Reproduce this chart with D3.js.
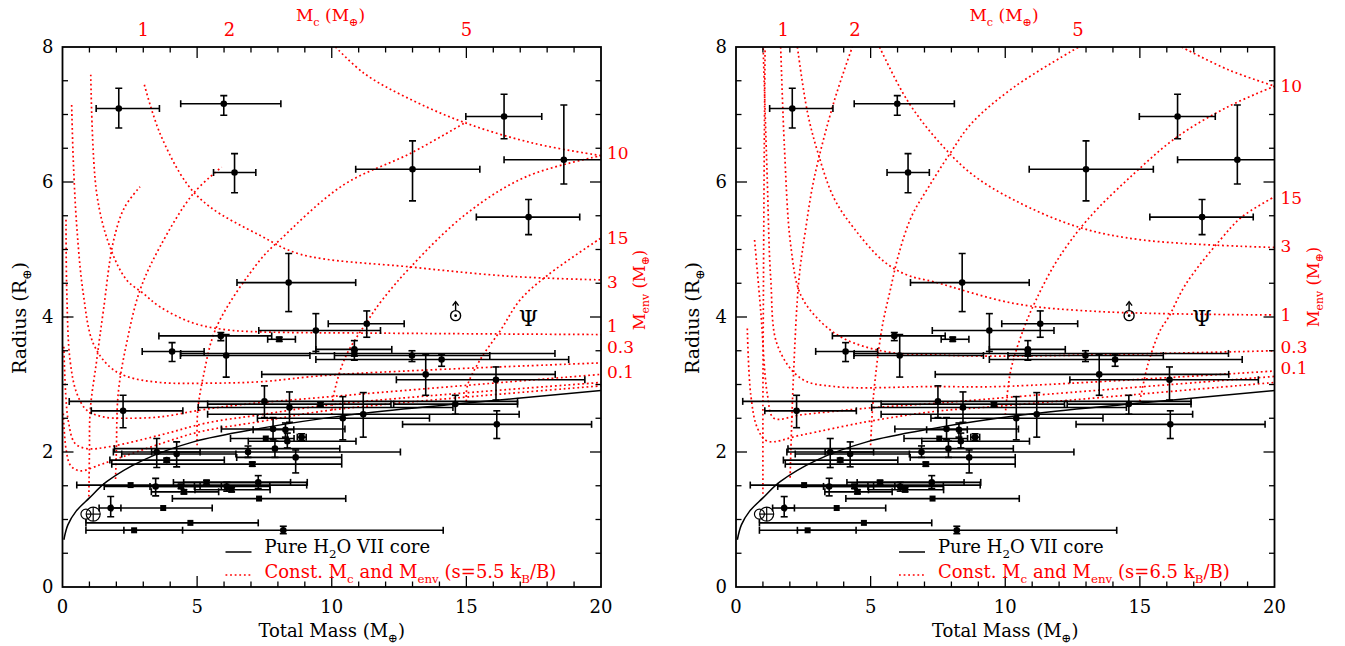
<!DOCTYPE html>
<html><head><meta charset="utf-8">
<script src="https://cdn.jsdelivr.net/npm/d3@7"></script>
<style>
html,body{margin:0;padding:0;background:#fff;}
svg{display:block;}
text{font-family:"DejaVu Serif",serif;}
</style></head>
<body>
<svg id="c" width="1345" height="646"></svg>
<script>
// ---------- DATA ----------
// planets: [mass, massLo, massHi, radius, radiusLo, radiusHi, marker]
const planets = [
[2.09,1.25,3.60,7.09,6.80,7.39,'c'],[5.99,4.39,8.11,7.16,6.99,7.28,'c'],[6.39,5.61,7.18,6.14,5.84,6.42,'c'],
[16.40,14.98,17.80,6.97,6.64,7.30,'c'],[18.62,16.40,21.5,6.33,5.97,7.14,'c'],[13.00,10.89,15.50,6.19,5.72,6.61,'c'],
[17.31,15.37,19.21,5.48,5.22,5.74,'c'],[8.40,6.48,10.89,4.51,4.08,4.94,'c'],[11.30,9.87,12.69,3.90,3.70,4.09,'c'],
[9.41,7.29,11.81,3.80,3.49,4.05,'c'],[5.88,3.58,7.77,3.72,3.65,3.77,'c'],[8.05,7.62,8.65,3.67,3.64,3.70,'s'],
[4.07,2.96,5.26,3.49,3.34,3.62,'c'],[6.08,4.38,9.19,3.43,3.11,3.74,'c'],[10.84,9.41,12.23,3.52,3.36,3.65,'c'],
[10.84,4.39,18.29,3.46,3.42,3.50,'c'],[12.98,10.10,15.87,3.43,3.34,3.50,'c'],[14.08,9.41,18.80,3.37,3.27,3.45,'c'],
[13.49,7.40,18.30,3.15,2.84,3.45,'c'],[16.10,12.40,19.40,3.07,2.77,3.26,'c'],[14.59,12.30,16.90,2.71,2.56,2.84,'c'],
[16.13,12.63,19.65,2.41,2.20,2.61,'c'],[10.41,7.24,13.63,2.50,2.18,2.82,'c'],[11.17,5.39,16.96,2.56,2.22,2.88,'c'],
[7.50,0.25,16.90,2.75,2.51,2.98,'c'],[8.43,5.04,14.50,2.66,2.44,2.89,'c'],[9.58,5.39,12.20,2.71,2.68,2.74,'s'],
[2.25,1.07,4.47,2.61,2.36,2.84,'c'],[7.82,5.90,10.49,2.34,2.18,2.51,'c'],[8.28,7.08,8.59,2.33,2.22,2.43,'c'],
[7.55,6.24,8.60,2.20,2.18,2.22,'s'],[8.35,6.90,10.90,2.16,2.06,2.28,'c'],[8.88,8.72,9.05,2.22,2.17,2.27,'c'],
[3.50,1.89,5.11,2.00,1.77,2.20,'c'],[4.24,2.20,6.44,1.97,1.78,2.15,'c'],[3.87,1.76,6.01,1.88,1.85,1.91,'c'],
[6.89,3.31,12.55,2.00,1.92,2.09,'c'],[7.89,1.93,10.30,2.05,1.92,2.16,'c'],[8.66,6.47,10.37,1.92,1.69,2.03,'c'],
[7.05,1.83,10.37,1.82,1.79,1.85,'s'],[2.53,0.53,9.07,1.51,1.49,1.53,'s'],[3.46,1.55,5.11,1.49,1.35,1.61,'c'],
[4.40,3.25,5.90,1.49,1.46,1.52,'s'],[4.51,3.30,5.80,1.41,1.38,1.44,'s'],[5.35,4.12,8.47,1.55,1.52,1.58,'s'],
[6.10,4.90,7.70,1.49,1.42,1.55,'c'],[6.28,4.92,7.71,1.44,1.41,1.47,'s'],[7.27,4.50,9.09,1.55,1.46,1.65,'c'],
[7.30,4.08,10.52,1.31,1.29,1.33,'s'],[1.79,1.36,2.17,1.17,1.04,1.34,'c'],[3.74,1.83,5.56,1.17,1.15,1.19,'s'],
[4.75,0.87,7.27,0.95,0.93,0.97,'s'],[2.66,2.28,4.46,0.84,0.82,0.86,'s'],[8.20,0.87,14.14,0.84,0.79,0.90,'c']
];
// solar system reference bodies [mass, radius]
const earthPos = [1.14, 1.08];
const venusPos = [0.87, 1.08];
const uranusPos = [14.6, 4.05];
const neptunePos = [17.3, 3.98];

// pure H2O VII core mass-radius relation [M, R]
const coreCurve = [[0.05,0.70],[0.2,0.92],[0.5,1.12],[1.0,1.32],[1.64,1.56],[3.0,1.88],[4.86,2.15],[7.33,2.35],[10.68,2.55],[14.61,2.71],[20,2.91]];

// s = 5.5 kB/B : constant core mass curves
const mc1A = [[0.98,1.34],[1.0,2.0],[1.03,2.62],[1.27,3.36],[1.52,4.10],[1.89,5.12],[2.3,5.62],[2.88,5.93]];
const mc2A = [[1.97,1.6],[2.0,2.0],[2.07,2.87],[2.38,3.61],[2.88,4.40],[3.62,5.04],[4.86,5.83],[5.91,6.22]];
const mc5A = [[5.0,2.1],[5.02,2.6],[5.23,3.12],[5.73,3.86],[7.33,4.84],[8.07,5.14],[10.41,5.95],[12.95,6.43],[15.0,6.89]];
const mc10A = [[10.0,2.55],[10.06,2.82],[10.5,3.4],[11.36,3.96],[11.87,4.25],[12.95,4.75],[15.0,5.53],[17.23,6.08],[20,6.39]];
const mc15A = [[15.0,2.75],[15.03,2.97],[15.5,3.36],[16.28,3.81],[16.99,4.25],[18.02,4.62],[20,5.17]];
// s = 5.5 : constant envelope mass curves
const me10A = [[10.14,8.0],[11.2,7.61],[12.79,7.25],[15.0,6.87],[17.54,6.57],[20,6.39]];
const me3A = [[3.04,7.44],[3.62,6.72],[4.61,5.98],[5.48,5.63],[7.33,5.21],[8.83,4.93],[12.95,4.74],[16.75,4.60],[20,4.55]];
const me1A = [[1.05,7.59],[1.27,5.83],[1.76,5.04],[2.38,4.55],[3.0,4.35],[3.62,4.15],[4.86,3.91],[6.10,3.81],[7.33,3.78],[12,3.76],[20,3.74]];
const me03A = [[0.34,7.14],[0.40,6.33],[0.53,5.34],[0.77,4.35],[1.14,3.61],[1.76,3.26],[2.38,3.12],[3.62,3.03],[5.48,3.02],[7.33,3.04],[9.95,3.14],[20,3.32]];
const me01A = [[0.13,5.44],[0.16,4.35],[0.28,3.36],[0.53,2.87],[0.90,2.62],[1.52,2.52],[2.38,2.50],[3.62,2.52],[5.11,2.62],[6.59,2.70],[9.95,2.82],[20,3.15]];
const me003A = [[0.05,3.56],[0.12,2.85],[0.22,2.45],[0.46,2.13],[0.90,2.05],[1.76,2.08],[3.62,2.25],[5.35,2.43],[7.33,2.55],[9.95,2.70],[20,3.03]];
const me001A = [[0.03,2.57],[0.13,2.05],[0.3,1.80],[0.65,1.72],[1.39,1.81],[1.89,1.88],[3.62,2.12],[5.11,2.30],[7.33,2.45],[9.95,2.62],[20,2.98]];

// s = 6.5 kB/B : constant core mass curves
const mc1B = [[1.0,1.38],[1.0,2.7],[1.02,4.5],[1.05,6.5],[1.08,8.0]];
const mc2B = [[2.01,1.62],[2.13,3.09],[2.34,4.57],[2.59,5.31],[2.90,6.05],[3.64,7.19],[4.32,8.0]];
const mc5B = [[5.0,2.1],[5.1,2.8],[5.41,3.81],[5.73,4.40],[6.05,4.94],[6.52,5.49],[7.16,5.93],[7.96,6.43],[8.75,6.87],[10.34,7.41],[12.73,8.0]];
const mc10B = [[10.0,2.55],[10.2,3.2],[10.66,3.8],[11.14,4.25],[11.93,4.84],[13.05,5.44],[14.8,6.13],[16.39,6.67],[18.3,7.12],[20,7.42]];
const mc15B = [[15.0,2.75],[15.3,3.3],[15.75,3.8],[16.07,4.0],[16.71,4.49],[17.98,5.14],[18.78,5.48],[20,5.78]];
// s = 6.5 : constant envelope mass curves
const me10B = [[16.55,8.0],[18.3,7.66],[20,7.42]];
const me3B = [[5.33,8.0],[6.36,7.21],[7.48,6.62],[8.75,6.12],[10.34,5.73],[12.73,5.33],[15.12,5.14],[20,5.03]];
const me1B = [[2.28,8.0],[2.65,7.04],[3.03,6.45],[3.64,5.76],[4.39,5.31],[5.50,4.82],[6.37,4.62],[7.36,4.52],[10.34,4.20],[13.52,4.08],[20,4.03]];
const me03B = [[1.66,8.0],[1.8,6.5],[2.03,5.07],[2.40,4.33],[3.15,3.93],[4.01,3.68],[5.50,3.49],[7.36,3.44],[9.81,3.42],[20,3.50]];
const me01B = [[1.01,7.98],[1.16,6.05],[1.29,4.57],[1.54,3.58],[2.41,3.09],[3.64,2.97],[7.36,2.97],[9.81,2.97],[20,3.20]];
const me003B = [[0.69,5.14],[0.92,4.08],[1.17,2.84],[1.41,2.50],[2.41,2.55],[4.88,2.65],[7.36,2.72],[9.81,2.80],[20,3.12]];
const me001B = [[0.42,3.83],[0.55,2.84],[0.80,2.35],[1.17,2.16],[2.41,2.25],[4.88,2.45],[7.36,2.60],[9.81,2.68],[20,3.03]];

// axis ticks
const xMajor = [0,5,10,15,20];
const yMajor = [0,2,4,6,8];
// top labels (Mc) : [label, total-mass position]
const topLabelsA = [["1",3.0],["2",6.2],["5",15.0]];
const topLabelsB = [["1",1.75],["2",4.42],["5",12.7]];
// right labels : [label, radius position]
const rightLabelsA = [["10",6.43],["15",5.17],["3",4.52],["1",3.86],["0.3",3.55],["0.1",3.19]];
const rightLabelsB = [["10",7.42],["15",5.76],["3",5.05],["1",4.03],["0.3",3.56],["0.1",3.25]];
const entropyA = "5.5", entropyB = "6.5";

// ---------- DRAW ----------
const svg = d3.select("#c");
const RED = "#ff0000";

function rich(sel, parts, size){
  const d = size*0.27;
  let low = false;
  parts.forEach(p=>{
    const t = sel.append("tspan").text(p[0]);
    if(p[1]){
      t.attr("font-size",size*0.66);
      if(!low){ t.attr("dy",d); low=true; }
    } else if(low){ t.attr("dy",-d); low=false; }
  });
  return sel;
}

function panel(cfg){
  const x = d3.scaleLinear().domain([0,20]).range([cfg.x0,cfg.x1]);
  const y = d3.scaleLinear().domain([0,8]).range([587,47]);
  const g = svg.append("g");
  const cid = "clip"+cfg.id;
  svg.append("defs").append("clipPath").attr("id",cid).append("rect")
    .attr("x",cfg.x0).attr("y",47).attr("width",cfg.x1-cfg.x0).attr("height",540);
  const plot = g.append("g").attr("clip-path",`url(#${cid})`);

  const line = d3.line().x(d=>x(d[0])).y(d=>y(d[1])).curve(d3.curveCatmullRom.alpha(0.5));
  cfg.curves.forEach(c=>{
    plot.append("path").attr("d",line(c)).attr("fill","none").attr("stroke",RED)
      .attr("stroke-width",1.7).attr("stroke-dasharray","1.8,2.8");
  });
  plot.append("path").attr("d",line(coreCurve)).attr("fill","none").attr("stroke","#000").attr("stroke-width",1.5);

  const pg = plot.append("g").attr("stroke","#000").attr("stroke-width",1.6);
  planets.forEach(p=>{
    const cx=x(p[0]), cy=y(p[3]);
    const xl=x(p[1]), xr=x(p[2]), yt=y(p[5]), yb=y(p[4]);
    pg.append("line").attr("x1",xl).attr("x2",xr).attr("y1",cy).attr("y2",cy);
    pg.append("line").attr("x1",xl).attr("x2",xl).attr("y1",cy-3.5).attr("y2",cy+3.5);
    pg.append("line").attr("x1",xr).attr("x2",xr).attr("y1",cy-3.5).attr("y2",cy+3.5);
    if(yb-yt>3){
      pg.append("line").attr("x1",cx).attr("x2",cx).attr("y1",yt).attr("y2",yb);
      pg.append("line").attr("x1",cx-3.5).attr("x2",cx+3.5).attr("y1",yt).attr("y2",yt);
      pg.append("line").attr("x1",cx-3.5).attr("x2",cx+3.5).attr("y1",yb).attr("y2",yb);
    }
    if(p[6]==='s') pg.append("rect").attr("x",cx-3).attr("y",cy-3).attr("width",6).attr("height",6).attr("fill","#000").attr("stroke","none");
    else pg.append("circle").attr("cx",cx).attr("cy",cy).attr("r",3.3).attr("fill","#000").attr("stroke","none");
  });

  // Earth & Venus
  const ex=x(earthPos[0]), ey=y(earthPos[1]);
  g.append("circle").attr("cx",ex).attr("cy",ey).attr("r",7).attr("fill","none").attr("stroke","#000").attr("stroke-width",1.2);
  g.append("line").attr("x1",ex-7).attr("x2",ex+7).attr("y1",ey).attr("y2",ey).attr("stroke","#000").attr("stroke-width",1.2);
  g.append("line").attr("x1",ex).attr("x2",ex).attr("y1",ey-7).attr("y2",ey+7).attr("stroke","#000").attr("stroke-width",1.2);
  const vx=x(venusPos[0]), vy=y(venusPos[1]);
  g.append("circle").attr("cx",vx).attr("cy",vy).attr("r",5).attr("fill","none").attr("stroke","#000").attr("stroke-width",1.2);
  g.append("line").attr("x1",vx).attr("x2",vx).attr("y1",vy+5).attr("y2",vy+9).attr("stroke","#000").attr("stroke-width",1.2);
  // Uranus
  const ux=x(uranusPos[0]), uy=y(uranusPos[1]);
  g.append("circle").attr("cx",ux).attr("cy",uy+2).attr("r",5).attr("fill","none").attr("stroke","#000").attr("stroke-width",1.4);
  g.append("circle").attr("cx",ux).attr("cy",uy+2).attr("r",1.4).attr("fill","#000");
  g.append("line").attr("x1",ux).attr("x2",ux).attr("y1",uy-3).attr("y2",uy-11).attr("stroke","#000").attr("stroke-width",1.4);
  g.append("path").attr("d",`M${ux-3},${uy-8} L${ux},${uy-12} L${ux+3},${uy-8}`).attr("fill","none").attr("stroke","#000").attr("stroke-width",1.4);
  // Neptune
  g.append("text").attr("x",x(neptunePos[0])).attr("y",y(neptunePos[1])+8).attr("text-anchor","middle")
    .attr("font-size",22).text("\u03A8");

  // frame
  g.append("rect").attr("x",cfg.x0).attr("y",47).attr("width",cfg.x1-cfg.x0).attr("height",540)
    .attr("fill","none").attr("stroke","#000").attr("stroke-width",1.8);
  const tk = g.append("g").attr("stroke","#000").attr("stroke-width",1.3);
  d3.range(1,20,1).forEach(v=>{
    const L = (v%5===0)?11:5.5, px=x(v);
    tk.append("line").attr("x1",px).attr("x2",px).attr("y1",587).attr("y2",587-L);
    tk.append("line").attr("x1",px).attr("x2",px).attr("y1",47).attr("y2",47+L);
  });
  d3.range(0.5,8,0.5).forEach(v=>{
    const L = (Math.abs(v%2)<1e-9)?11:5.5, py=y(v);
    tk.append("line").attr("x1",cfg.x0).attr("x2",cfg.x0+L).attr("y1",py).attr("y2",py);
    tk.append("line").attr("x1",cfg.x1).attr("x2",cfg.x1-L).attr("y1",py).attr("y2",py);
  });
  xMajor.forEach(v=>{
    g.append("text").attr("x",x(v)).attr("y",613).attr("text-anchor","middle").attr("font-size",18).text(v);
  });
  yMajor.forEach(v=>{
    g.append("text").attr("x",cfg.x0-9).attr("y",y(v)+6).attr("text-anchor","end").attr("font-size",18).text(v);
  });
  rich(g.append("text").attr("x",(cfg.x0+cfg.x1)/2).attr("y",637).attr("text-anchor","middle").attr("font-size",18),
    [["Total Mass (M"],["\u2295",1],[")"]],18);
  rich(g.append("text").attr("transform",`translate(${cfg.x0-37},318) rotate(-90)`).attr("text-anchor","middle").attr("font-size",19),
    [["Radius (R"],["\u2295",1],[")"]],19);
  rich(g.append("text").attr("x",cfg.x0+268).attr("y",21).attr("text-anchor","middle").attr("font-size",17).attr("fill",RED),
    [["M"],["c",1],[" (M"],["\u2295",1],[")"]],17);
  cfg.top.forEach(t=>{
    g.append("text").attr("x",x(t[1])).attr("y",36).attr("text-anchor","middle").attr("font-size",18).attr("fill",RED).text(t[0]);
  });
  cfg.right.forEach(t=>{
    g.append("text").attr("x",cfg.x1+6).attr("y",y(t[1])+6).attr("font-size",17).attr("fill",RED).text(t[0]);
  });
  rich(g.append("text").attr("transform",`translate(${cfg.x1+44},${cfg.menvY}) rotate(-90)`).attr("text-anchor","middle").attr("font-size",16.5).attr("fill",RED),
    [["M"],["env",1],[" (M"],["\u2295",1],[")"]],16.5);

  // legend
  const lx = cfg.x0+163;
  g.append("line").attr("x1",lx).attr("x2",lx+26).attr("y1",552).attr("y2",552).attr("stroke","#000").attr("stroke-width",1.5);
  g.append("line").attr("x1",lx).attr("x2",lx+26).attr("y1",575).attr("y2",575).attr("stroke",RED).attr("stroke-width",1.7).attr("stroke-dasharray","1.8,2.8");
  rich(g.append("text").attr("x",lx+39).attr("y",553).attr("font-size",18),
    [["Pure H"],["2",1],["O VII core"]],18);
  rich(g.append("text").attr("x",lx+39).attr("y",578).attr("font-size",18).attr("fill",RED),
    [["Const. M"],["c",1],[" and M"],["env",1],[" (s="+cfg.s+" k"],["B",1],["/B)"]],18);
}

panel({id:"A",x0:62.5,x1:601,s:entropyA,top:topLabelsA,right:rightLabelsA,menvY:290,
  curves:[mc1A,mc2A,mc5A,mc10A,mc15A,me10A,me3A,me1A,me03A,me01A,me003A,me001A]});
panel({id:"B",x0:736,x1:1274.5,s:entropyB,top:topLabelsB,right:rightLabelsB,menvY:287,
  curves:[mc1B,mc2B,mc5B,mc10B,mc15B,me10B,me3B,me1B,me03B,me01B,me003B,me001B]});
</script>
</body></html>
